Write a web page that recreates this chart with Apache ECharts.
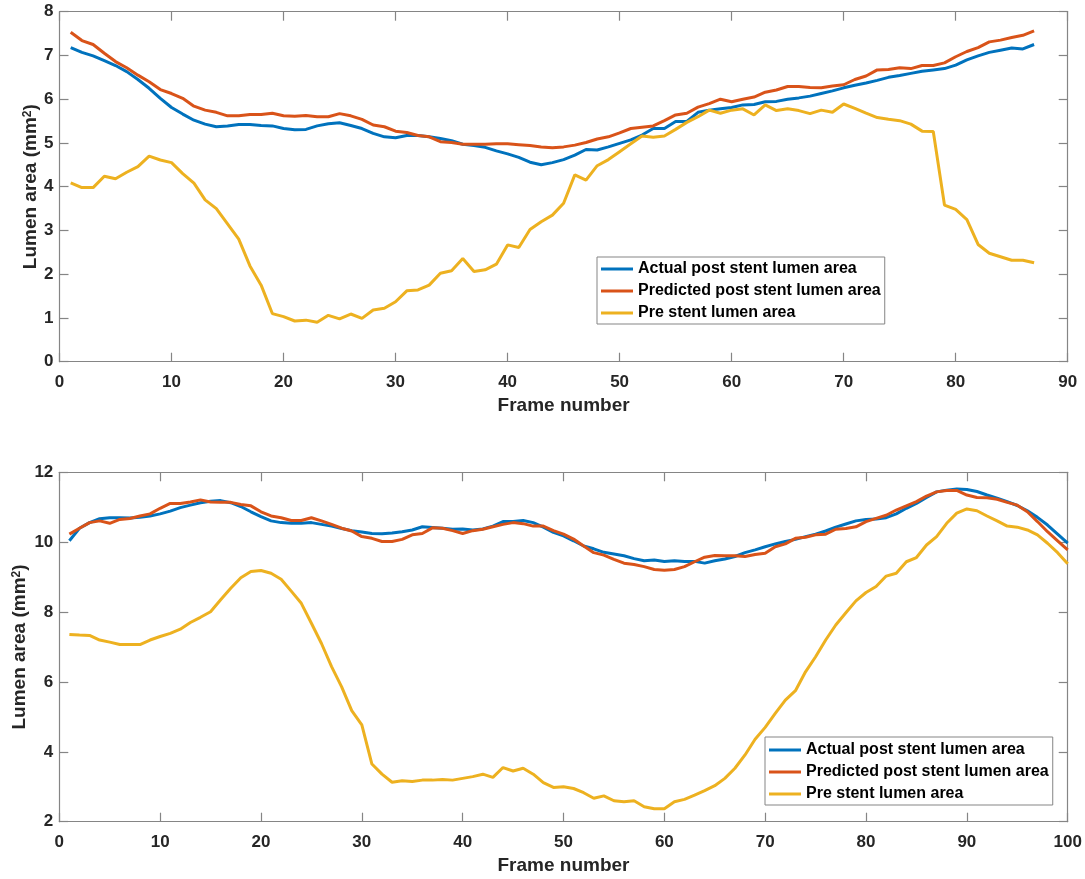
<!DOCTYPE html>
<html>
<head>
<meta charset="utf-8">
<title>Lumen area by frame</title>
<script src="https://cdn.jsdelivr.net/npm/echarts@6/dist/echarts.min.js"></script>
<style>
  html, body { margin: 0; padding: 0; background: #ffffff; }
  #chart { width: 1085px; height: 879px; }
</style>
</head>
<body>
<div id="chart"></div>
<script>
// Series names (legend labels)
const seriesNames = ['Actual post stent lumen area', 'Predicted post stent lumen area', 'Pre stent lumen area'];

// Upper panel: frames 1..87, lumen area in mm^2
const topActual = [7.18, 7.07, 6.99, 6.88, 6.77, 6.63, 6.45, 6.25, 6.02, 5.81, 5.66, 5.52, 5.43, 5.37, 5.39, 5.42, 5.42, 5.40, 5.39, 5.33,
  5.30, 5.31, 5.39, 5.44, 5.46, 5.40, 5.33, 5.22, 5.14, 5.12, 5.17, 5.17, 5.14, 5.10, 5.05, 4.97, 4.94, 4.90, 4.82, 4.75,
  4.67, 4.56, 4.50, 4.55, 4.62, 4.72, 4.85, 4.84, 4.91, 4.99, 5.07, 5.18, 5.33, 5.33, 5.49, 5.49, 5.70, 5.75, 5.78, 5.81,
  5.87, 5.88, 5.94, 5.95, 6.00, 6.03, 6.07, 6.13, 6.19, 6.26, 6.32, 6.37, 6.43, 6.50, 6.54, 6.59, 6.64, 6.67, 6.70, 6.78,
  6.90, 6.99, 7.07, 7.12, 7.17, 7.15, 7.25];
const topPredicted = [7.53, 7.34, 7.25, 7.05, 6.86, 6.72, 6.55, 6.40, 6.22, 6.13, 6.02, 5.84, 5.75, 5.70, 5.62, 5.62, 5.65, 5.65, 5.68, 5.62,
  5.61, 5.63, 5.60, 5.60, 5.67, 5.62, 5.54, 5.41, 5.37, 5.27, 5.24, 5.17, 5.14, 5.03, 5.01, 4.97, 4.97, 4.97, 4.98, 4.98,
  4.96, 4.94, 4.91, 4.89, 4.91, 4.95, 5.01, 5.09, 5.14, 5.23, 5.33, 5.36, 5.39, 5.51, 5.64, 5.68, 5.82, 5.90, 6.00, 5.94,
  6.00, 6.05, 6.16, 6.21, 6.29, 6.29, 6.27, 6.26, 6.30, 6.33, 6.45, 6.53, 6.67, 6.68, 6.72, 6.70, 6.77, 6.77, 6.83, 6.97,
  7.09, 7.18, 7.31, 7.35, 7.41, 7.46, 7.56];
const topPre = [4.09, 3.98, 3.98, 4.24, 4.18, 4.33, 4.46, 4.70, 4.61, 4.55, 4.30, 4.08, 3.70, 3.50, 3.15, 2.80, 2.19, 1.75, 1.10, 1.03,
  0.93, 0.95, 0.90, 1.06, 0.98, 1.09, 0.99, 1.18, 1.22, 1.37, 1.62, 1.64, 1.75, 2.02, 2.08, 2.36, 2.06, 2.10, 2.23, 2.67,
  2.61, 3.02, 3.20, 3.35, 3.62, 4.27, 4.15, 4.48, 4.62, 4.80, 4.98, 5.16, 5.13, 5.16, 5.31, 5.47, 5.60, 5.75, 5.68, 5.75,
  5.78, 5.64, 5.87, 5.74, 5.78, 5.74, 5.67, 5.75, 5.70, 5.89, 5.79, 5.68, 5.58, 5.54, 5.51, 5.43, 5.27, 5.26, 3.58, 3.48,
  3.25, 2.68, 2.48, 2.40, 2.32, 2.32, 2.26];

// Lower panel: frames 1..100, lumen area in mm^2
const bottomActual = [10.04, 10.40, 10.56, 10.67, 10.70, 10.70, 10.69, 10.71, 10.75, 10.81, 10.89, 10.99, 11.06, 11.13, 11.17, 11.19, 11.13, 11.02, 10.87, 10.73,
  10.61, 10.56, 10.54, 10.54, 10.56, 10.51, 10.46, 10.39, 10.33, 10.29, 10.25, 10.24, 10.26, 10.30, 10.35, 10.44, 10.42, 10.40, 10.37, 10.38,
  10.35, 10.38, 10.46, 10.59, 10.59, 10.62, 10.56, 10.43, 10.28, 10.18, 10.04, 9.89, 9.81, 9.71, 9.66, 9.61, 9.53, 9.47, 9.49, 9.45,
  9.47, 9.45, 9.45, 9.40, 9.47, 9.52, 9.59, 9.70, 9.78, 9.87, 9.95, 10.02, 10.08, 10.16, 10.23, 10.32, 10.43, 10.52, 10.61, 10.65,
  10.66, 10.70, 10.81, 10.97, 11.11, 11.28, 11.44, 11.49, 11.52, 11.51, 11.45, 11.35, 11.26, 11.16, 11.05, 10.90, 10.71, 10.49, 10.23, 9.97];
const bottomPredicted = [10.23, 10.40, 10.56, 10.61, 10.54, 10.65, 10.68, 10.75, 10.81, 10.97, 11.11, 11.11, 11.15, 11.21, 11.15, 11.14, 11.14, 11.08, 11.04, 10.87,
  10.75, 10.70, 10.62, 10.62, 10.70, 10.61, 10.51, 10.40, 10.32, 10.16, 10.11, 10.02, 10.02, 10.08, 10.21, 10.25, 10.41, 10.40, 10.33, 10.25,
  10.33, 10.37, 10.44, 10.51, 10.56, 10.53, 10.46, 10.46, 10.33, 10.23, 10.09, 9.89, 9.70, 9.63, 9.51, 9.40, 9.36, 9.30, 9.22, 9.20,
  9.22, 9.30, 9.44, 9.57, 9.62, 9.61, 9.61, 9.59, 9.65, 9.68, 9.87, 9.95, 10.11, 10.14, 10.21, 10.23, 10.37, 10.39, 10.44, 10.59,
  10.68, 10.77, 10.92, 11.04, 11.16, 11.32, 11.44, 11.48, 11.48, 11.35, 11.28, 11.27, 11.23, 11.14, 11.06, 10.87, 10.59, 10.30, 10.04, 9.78];
const bottomPre = [7.36, 7.34, 7.33, 7.20, 7.14, 7.07, 7.07, 7.07, 7.20, 7.30, 7.39, 7.51, 7.70, 7.85, 8.01, 8.35, 8.68, 8.98, 9.16, 9.19,
  9.11, 8.94, 8.60, 8.25, 7.68, 7.10, 6.44, 5.86, 5.18, 4.77, 3.65, 3.36, 3.13, 3.17, 3.15, 3.19, 3.19, 3.21, 3.19, 3.24,
  3.29, 3.36, 3.27, 3.55, 3.45, 3.53, 3.36, 3.12, 2.98, 3.00, 2.95, 2.83, 2.67, 2.74, 2.60, 2.57, 2.60, 2.43, 2.37, 2.37,
  2.57, 2.64, 2.76, 2.89, 3.03, 3.24, 3.53, 3.91, 4.36, 4.70, 5.10, 5.48, 5.75, 6.29, 6.72, 7.20, 7.63, 7.98, 8.32, 8.56,
  8.73, 9.03, 9.11, 9.44, 9.56, 9.92, 10.16, 10.54, 10.83, 10.95, 10.90, 10.75, 10.61, 10.46, 10.43, 10.35, 10.21, 9.97, 9.70, 9.38];

// Axis ranges and tick steps
const topX = { min: 0, max: 90, step: 10 };
const topY = { min: 0, max: 8, step: 1 };
const bottomX = { min: 0, max: 100, step: 10 };
const bottomY = { min: 2, max: 12, step: 2 };

const COLORS = ['#0072BD', '#D95319', '#EDB120'];
const FONT = '"Liberation Sans", Arial, Helvetica, sans-serif';
const BOX = '#858585';
const TEXT = '#262626';

function pairs(values) {
  return values.map((v, i) => [i + 1, v]);
}

function xAxes(range, gridIndex) {
  const common = {
    type: 'value', gridIndex: gridIndex,
    min: range.min, max: range.max, interval: range.step,
    axisLine: { show: true, onZero: false, lineStyle: { color: BOX, width: 1.2 } },
    axisTick: { show: true, inside: true, length: 9, lineStyle: { color: BOX, width: 1.2 } },
    splitLine: { show: false }
  };
  return [
    Object.assign({}, common, {
      position: 'bottom',
      axisLabel: { show: true, margin: 12, color: TEXT, fontFamily: FONT, fontWeight: 'bold', fontSize: 17 },
      name: 'Frame number', nameLocation: 'middle', nameGap: 35, nameMoveOverlap: false,
      nameTextStyle: { color: TEXT, fontFamily: FONT, fontWeight: 'bold', fontSize: 19 }
    }),
    Object.assign({}, common, { position: 'top', axisLabel: { show: false } })
  ];
}

function yAxes(range, gridIndex, nameGap) {
  const common = {
    type: 'value', gridIndex: gridIndex,
    min: range.min, max: range.max, interval: range.step,
    axisLine: { show: true, onZero: false, lineStyle: { color: BOX, width: 1.2 } },
    axisTick: { show: true, inside: true, length: 9, lineStyle: { color: BOX, width: 1.2 } },
    splitLine: { show: false }
  };
  return [
    Object.assign({}, common, {
      position: 'left',
      axisLabel: { show: true, margin: 6, color: TEXT, fontFamily: FONT, fontWeight: 'bold', fontSize: 17 },
      name: 'Lumen area (mm{sup|2})', nameLocation: 'middle', nameGap: nameGap, nameMoveOverlap: false,
      nameTextStyle: {
        color: TEXT, fontFamily: FONT, fontWeight: 'bold', fontSize: 19,
        rich: { sup: { color: TEXT, fontFamily: FONT, fontWeight: 'bold', fontSize: 12, verticalAlign: 'top', lineHeight: 12, padding: [0, 0, 9, 0] } }
      }
    }),
    Object.assign({}, common, { position: 'right', axisLabel: { show: false } })
  ];
}

function lineSeries(name, values, xIdx, yIdx, color) {
  return {
    type: 'line', name: name, data: pairs(values),
    xAxisIndex: xIdx, yAxisIndex: yIdx,
    symbol: 'none', smooth: false,
    lineStyle: { color: color, width: 3 },
    itemStyle: { color: color },
    z: 2
  };
}

function legendAt(left, top, pad) {
  return {
    data: seriesNames, orient: 'vertical', left: left, top: top,
    icon: 'rect', itemWidth: 32, itemHeight: 3, itemGap: 2,
    padding: pad,
    backgroundColor: '#ffffff', borderColor: BOX, borderWidth: 1, borderRadius: 0,
    textStyle: { color: '#000000', fontFamily: FONT, fontWeight: 'bold', fontSize: 16, lineHeight: 20 },
    selectedMode: false
  };
}

const chart = echarts.init(document.getElementById('chart'), null, { renderer: 'canvas' });
chart.setOption({
  backgroundColor: '#ffffff',
  animation: false,
  color: COLORS,
  grid: [
    { left: 59.5, top: 11.7, width: 1008.2, height: 350, containLabel: false, outerBoundsMode: 'none' },
    { left: 59.3, top: 472.3, width: 1008.4, height: 349.4, containLabel: false, outerBoundsMode: 'none' }
  ],
  xAxis: xAxes(topX, 0).concat(xAxes(bottomX, 1)),
  yAxis: yAxes(topY, 0, 19).concat(yAxes(bottomY, 1, 30)),
  legend: [
    legendAt(597, 257, [2, 4, 1, 4]),
    legendAt(765, 737, [3, 4, 1, 4])
  ],
  series: [
    lineSeries(seriesNames[0], topActual, 0, 0, COLORS[0]),
    lineSeries(seriesNames[1], topPredicted, 0, 0, COLORS[1]),
    lineSeries(seriesNames[2], topPre, 0, 0, COLORS[2]),
    lineSeries(seriesNames[0], bottomActual, 2, 2, COLORS[0]),
    lineSeries(seriesNames[1], bottomPredicted, 2, 2, COLORS[1]),
    lineSeries(seriesNames[2], bottomPre, 2, 2, COLORS[2])
  ]
});
</script>
</body>
</html>
